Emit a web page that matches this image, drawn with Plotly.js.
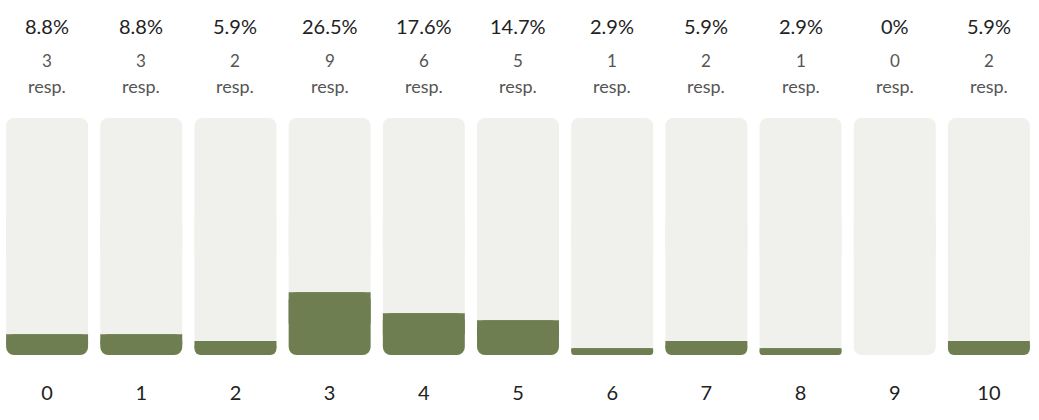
<!DOCTYPE html>
<html>
<head>
<meta charset="utf-8">
<script src="https://cdn.plot.ly/plotly-3.0.1.min.js"></script>
<style>html,body{margin:0;padding:0;background:#fff;}#chart{width:1039px;height:420px;}</style>
</head>
<body>
<div id="chart"></div>
<script>
var categories = ['0','1','2','3','4','5','6','7','8','9','10'];
var percents = [8.8, 8.8, 5.9, 26.5, 17.6, 14.7, 2.9, 5.9, 2.9, 0, 5.9];
var responses = [3, 3, 2, 9, 6, 5, 1, 2, 1, 0, 2];
var fullScale = 100;

var FONT = 'Lato, "Source Sans Pro", "Noto Sans", sans-serif';
var bgColor = '#f0f0ec';
var fgColor = '#6f7e50';
var W = 0.87;

var upper = {
  type: 'bar', x: categories,
  base: categories.map(function(){ return fullScale * 0.4; }),
  y: categories.map(function(){ return fullScale * 0.6; }),
  width: W, marker: {color: bgColor, cornerradius: 8, line: {width: 0}},
  hoverinfo: 'skip', showlegend: false
};
var lower = {
  type: 'bar', x: categories,
  base: categories.map(function(){ return fullScale * 0.6; }),
  y: categories.map(function(){ return -fullScale * 0.6; }),
  width: W, marker: {color: bgColor, cornerradius: 8, line: {width: 0}},
  hoverinfo: 'skip', showlegend: false
};
// green bar with rounded corners
var values = {
  type: 'bar', x: categories,
  base: percents.slice(),
  y: percents.map(function(p){ return -p; }),
  width: W, marker: {color: fgColor, cornerradius: 8, line: {width: 0}},
  hoverinfo: 'skip', showlegend: false
};
// flat top half of the green bar (square top corners)
var valuesTop = {
  type: 'bar', x: categories,
  base: percents.map(function(p){ return p / 2; }),
  y: percents.map(function(p){ return p / 2; }),
  width: W, marker: {color: fgColor, cornerradius: 0, line: {width: 0}},
  hoverinfo: 'skip', showlegend: false
};

var annotations = [];
categories.forEach(function(c, i){
  annotations.push({x: c, xref: 'x', y: 1, yref: 'paper', yanchor: 'middle', yshift: 92,
    text: percents[i] + '%', showarrow: false, font: {family: FONT, size: 20, color: '#222'}});
  annotations.push({x: c, xref: 'x', y: 1, yref: 'paper', yanchor: 'middle', yshift: 58,
    text: String(responses[i]), showarrow: false, font: {family: FONT, size: 17, color: '#555'}});
  annotations.push({x: c, xref: 'x', y: 1, yref: 'paper', yanchor: 'middle', yshift: 32,
    text: 'resp.', showarrow: false, font: {family: FONT, size: 18, color: '#555'}});
});

var layout = {
  width: 1039, height: 420,
  margin: {l: 0, r: 3, t: 118, b: 65},
  paper_bgcolor: '#fff', plot_bgcolor: '#fff',
  barmode: 'overlay',
  xaxis: {type: 'category', range: [-0.5, 10.5], showgrid: false, zeroline: false, showline: false,
    ticks: '', ticklabelstandoff: 24, tickfont: {family: FONT, size: 20, color: '#222'}, fixedrange: true},
  yaxis: {range: [0, fullScale], showgrid: false, zeroline: false, showline: false,
    showticklabels: false, ticks: '', fixedrange: true},
  annotations: annotations,
  showlegend: false
};

Plotly.newPlot('chart', [upper, lower, values, valuesTop], layout, {displayModeBar: false, staticPlot: true});
</script>
</body>
</html>
